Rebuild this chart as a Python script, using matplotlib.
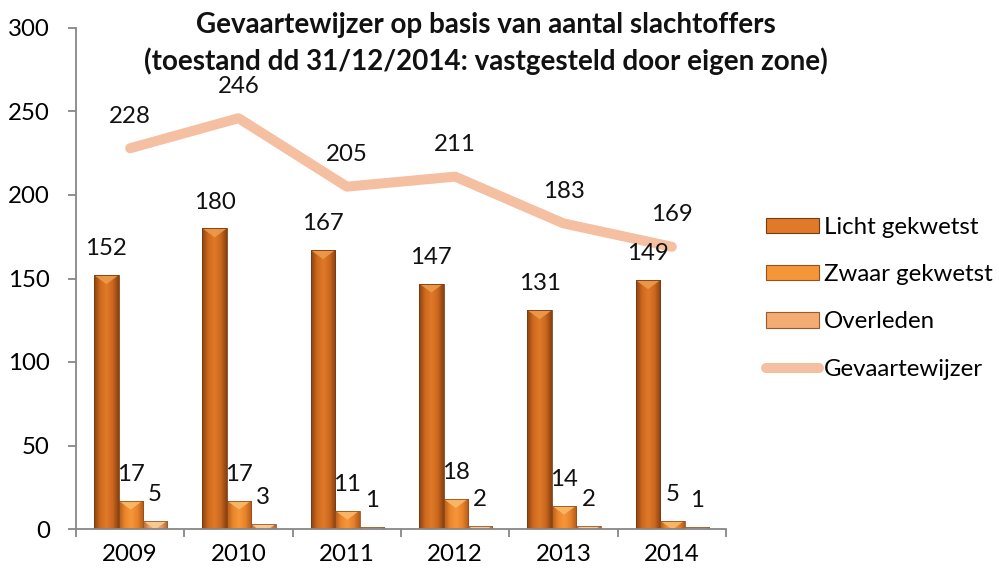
import numpy as np
import matplotlib
matplotlib.use("Agg")
import matplotlib.pyplot as plt
from matplotlib.patches import Rectangle, Polygon, Patch
from matplotlib.lines import Line2D
from matplotlib.colors import LinearSegmentedColormap

years = ["2009", "2010", "2011", "2012", "2013", "2014"]
licht = [152, 180, 167, 147, 131, 149]
zwaar = [17, 17, 11, 18, 14, 5]
overleden = [5, 3, 1, 2, 2, 1]
gevaar = [228, 246, 205, 211, 183, 169]
series_names = ["Licht gekwetst", "Zwaar gekwetst", "Overleden"]
line_name = "Gevaartewijzer"
title = "Gevaartewijzer op basis van aantal slachtoffers\n(toestand dd 31/12/2014: vastgesteld door eigen zone)"

plt.rcParams['font.family'] = ['Lato', 'DejaVu Sans']
FS = 17.3

grads = [
    ["#8A4211", "#CF6A1D", "#E07A2A", "#CC681E", "#864010"],
    ["#B05E1C", "#EE872C", "#F6963A", "#E8822A", "#AE5A1C"],
    ["#B26634", "#ECA062", "#F3AD72", "#E79858", "#AE6434"],
]
bevel = ["#EE9A4C", "#F9BA6A", "#F9CD98"]
edges = ["#7A3A10", "#9A4E18", "#9C5A2C"]
line_col = "#F5BFA2"

fig = plt.figure(figsize=(9.99, 5.76), dpi=100)
ax = fig.add_axes([76/999, 1-529/576, 650/999, (529-28)/576])
ax.set_xlim(-0.5, len(years)-0.5)
ax.set_ylim(0, 300)

x = np.arange(len(years))
bw = 0.225
offsets = [-bw, 0, bw]
shift = 0.005

pyu = ax.transData.transform((0, 1))[1] - ax.transData.transform((0, 0))[1]

grad_img = np.linspace(0, 1, 128)[None, :]
for si, vals in enumerate([licht, zwaar, overleden]):
    cmap = LinearSegmentedColormap.from_list(f"g{si}", grads[si])
    for xi, v in zip(x, vals):
        cx = xi + offsets[si] + shift
        l, r = cx - bw/2, cx + bw/2
        rect = Rectangle((l, 0), bw, v, facecolor='none', edgecolor=edges[si], lw=0.6, zorder=2.2)
        ax.add_patch(rect)
        im = ax.imshow(grad_img, cmap=cmap, extent=(l, r, 0, v), aspect='auto',
                       interpolation='bicubic', zorder=2)
        im.set_clip_path(rect)
        d = 9 / pyu
        tri = Polygon([(l, v), (r, v), (cx, v - d)], closed=True, facecolor=bevel[si],
                      edgecolor='none', zorder=2.1, alpha=0.9)
        ax.add_patch(tri)
        tri.set_clip_path(rect)
        ax.annotate(str(v), (cx, v), xytext=(0, 19), textcoords='offset points',
                    ha='center', va='center', fontsize=FS, color='#111111', zorder=5)

ax.plot(x, gevaar, color=line_col, lw=7.2, solid_capstyle='round', solid_joinstyle='round', zorder=3)
for xi, v in zip(x, gevaar):
    ax.annotate(str(v), (xi, v), xytext=(0, 23), textcoords='offset points',
                ha='center', va='center', fontsize=FS, color='#111111', zorder=5)

ax.set_xlim(-0.5, len(years)-0.5)
ax.set_ylim(0, 300)
ax.set_aspect('auto')

for s in ['top', 'right']:
    ax.spines[s].set_visible(False)
for s in ['left', 'bottom']:
    ax.spines[s].set_color('#878787')
    ax.spines[s].set_linewidth(1.3)

ax.set_yticks(np.arange(0, 301, 50))
ax.tick_params(axis='y', length=5.8, width=1.3, color='#878787', labelsize=FS, pad=13, direction='out')
ax.set_xticks(np.arange(-0.5, len(years), 1.0))
ax.set_xticklabels([])
ax.set_xticks(x, minor=True)
ax.set_xticklabels(years, minor=True)
ax.tick_params(axis='x', which='major', length=6, width=1.3, color='#878787', direction='out')
ax.tick_params(axis='x', which='minor', length=0, labelsize=FS, pad=11)

fig.text(0.486, 0.979, title, ha='center', va='top', fontsize=20, fontweight='bold',
         linespacing=1.4, color='#111111')

handles = [Patch(facecolor=grads[i][2], edgecolor=edges[i], lw=0.8) for i in range(3)]
handles.append(Line2D([0], [0], color=line_col, lw=7.2, solid_capstyle='round'))
leg = fig.legend(handles, series_names + [line_name], loc='upper left',
                 bbox_to_anchor=(766/999, 1-217/576), frameon=False, fontsize=FS,
                 handlelength=2.2, handletextpad=0.22, labelspacing=1.09,
                 borderpad=0, borderaxespad=0, handleheight=0.6)

fig.savefig("out.png", dpi=100)
